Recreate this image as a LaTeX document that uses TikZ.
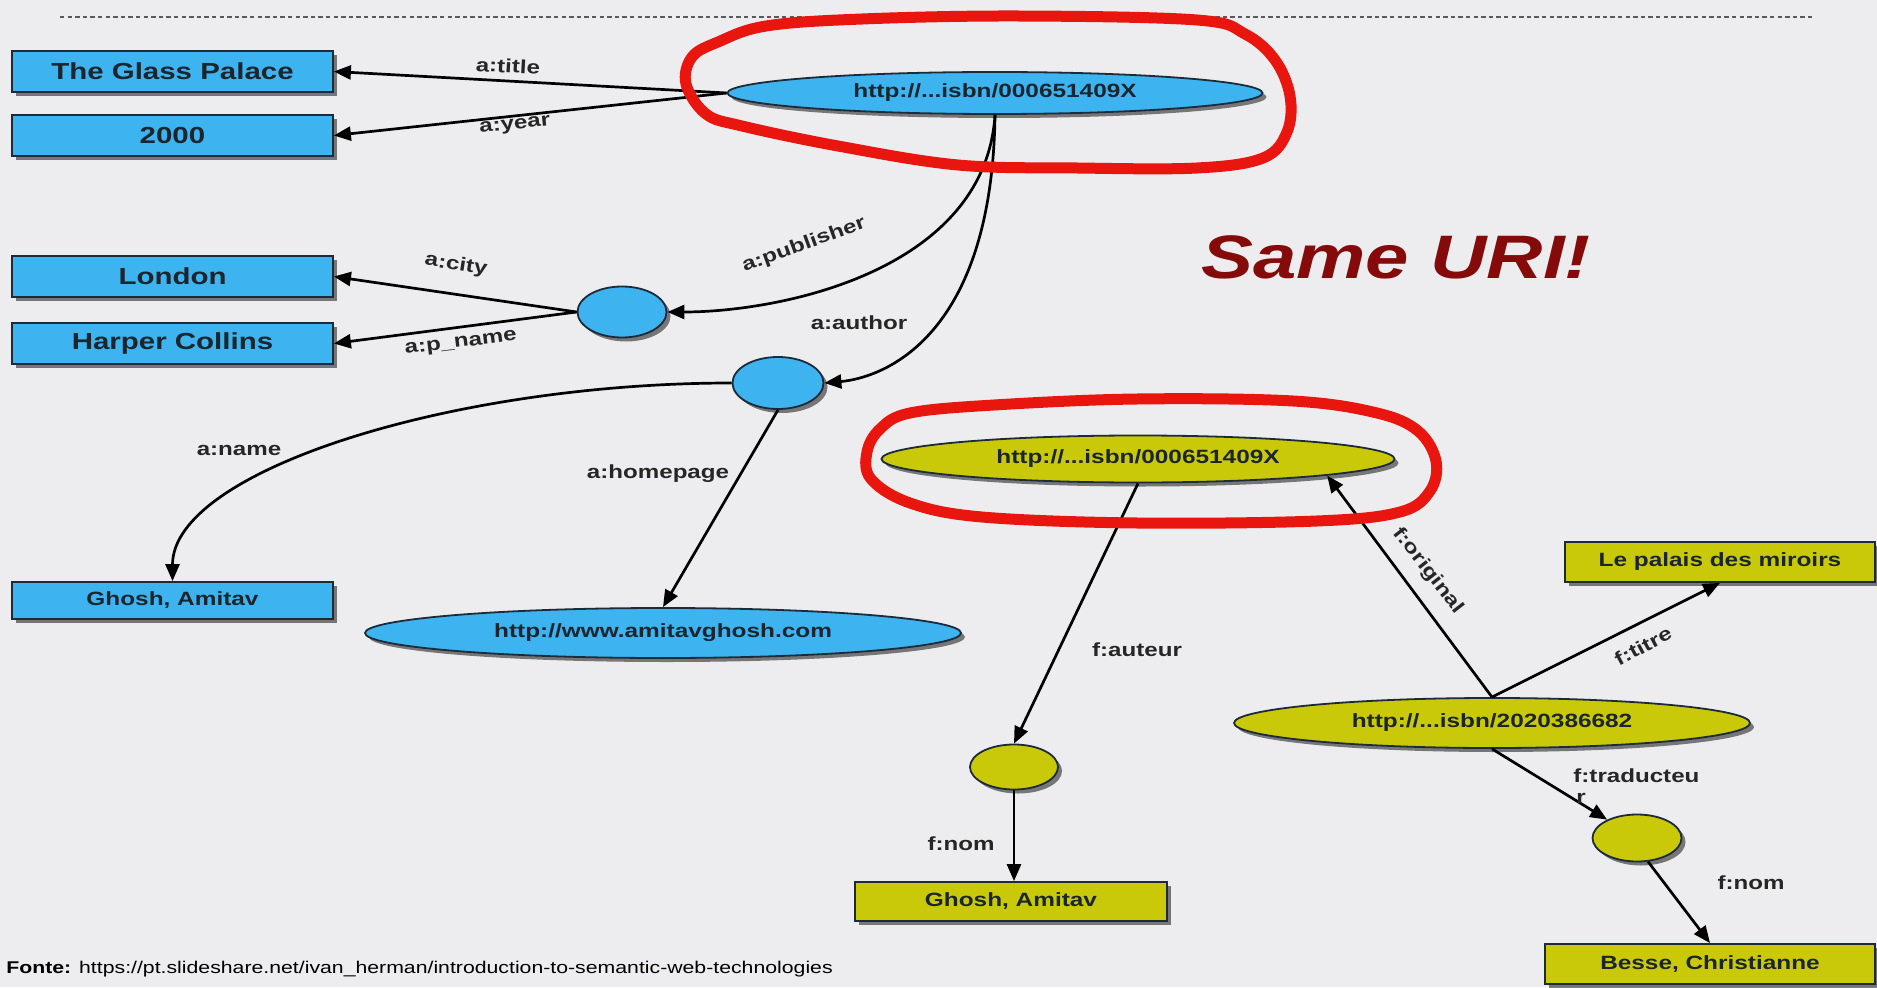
\documentclass[tikz,border=0pt]{standalone}
\usepackage{fontspec}
\setmainfont{Liberation Sans}
\usetikzlibrary{shapes.geometric,shadows,arrows.meta,calc}
\definecolor{bgc}{HTML}{EDEDEF}
\definecolor{blueF}{HTML}{3DB3EF}
\definecolor{yelF}{HTML}{C9C90A}
\definecolor{edgeC}{HTML}{1C2B3A}
\definecolor{txtC}{HTML}{1A252D}
\definecolor{labC}{HTML}{262626}
\definecolor{uriC}{HTML}{850A0A}
\definecolor{loopC}{HTML}{E8160F}
\newcommand{\sx}[1]{\scalebox{1.27}[1]{#1}}
\begin{document}
\begin{tikzpicture}[x=0.5pt,y=0.5pt,
  shad/.style={drop shadow={shadow xshift=2pt,shadow yshift=-2pt,opacity=0.5,fill=black}},
  nbase/.style={draw=edgeC,line width=0.9pt,inner sep=0pt,shad,text=txtC,font=\bfseries\fontsize{9.6}{11}\selectfont},
  bigbox/.style={nbase,rectangle,fill=blueF,minimum width=160.5pt,minimum height=20.5pt,font=\bfseries\fontsize{11.6}{13}\selectfont},
  bbox/.style={nbase,rectangle,fill=blueF},
  ybox/.style={nbase,rectangle,fill=yelF},
  bell/.style={nbase,ellipse,fill=blueF},
  yell/.style={nbase,ellipse,fill=yelF},
  lab/.style={inner sep=0pt,text=labC,font=\bfseries\fontsize{9.5}{10}\selectfont},
  arr/.style={line width=1.35pt,-{Triangle[length=8.5pt,width=7pt]}},
  redloop/.style={draw=loopC,line width=5.5pt,line join=round}
]
\fill[bgc] (0,0) rectangle (1877,987);
\useasboundingbox (0,0) rectangle (1877,987);

\draw[gray!70!black,line width=0.9pt,dash pattern=on 2.2pt off 1.6pt] (60,970) -- (1813,970);

% nodes
\node[bigbox] (glass) at (172.5,915.5) {\sx{The Glass Palace}};
\node[bigbox] (y2000) at (172.5,851.5) {\sx{2000}};
\node[bigbox] (london) at (172.5,710.5) {\sx{London}};
\node[bigbox] (harper) at (172.5,643.5) {\sx{Harper Collins}};
\node[bbox,minimum width=160.5pt,minimum height=18.5pt] (ghoshA) at (172.5,386.5) {\sx{Ghosh, Amitav}};
\node[bell,minimum width=267.5pt,minimum height=21pt] (isbnA) at (995,894) {\sx{http://...isbn/000651409X}};
\node[bell,minimum width=44.5pt,minimum height=25.5pt] (pub) at (622,675) {};
\node[bell,minimum width=45.5pt,minimum height=26pt] (auth) at (778,604) {};
\node[bell,minimum width=298pt,minimum height=25pt] (home) at (663,354) {\sx{http://www.amitavghosh.com}};
\node[yell,minimum width=256.5pt,minimum height=23.5pt] (isbnF) at (1138,528) {\sx{http://...isbn/000651409X}};
\node[yell,minimum width=44pt,minimum height=22.5pt] (fauth) at (1014,220) {};
\node[ybox,minimum width=156pt,minimum height=19.5pt] (ghoshF) at (1011,85.5) {\sx{Ghosh, Amitav}};
\node[yell,minimum width=258pt,minimum height=25pt] (isbn2) at (1492,264) {\sx{http://...isbn/2020386682}};
\node[yell,minimum width=44.5pt,minimum height=23.5pt] (trad) at (1637,149) {};
\node[ybox,minimum width=155pt,minimum height=20pt] (palais) at (1720,425) {\sx{Le palais des miroirs}};
\node[ybox,minimum width=165pt,minimum height=20pt] (besse) at (1710,23) {\sx{Besse, Christianne}};

% edges
\draw[arr] (isbnA.west) -- (glass.east);
\draw[arr] (isbnA.west) -- (y2000.east);
\draw[arr] (isbnA.south) .. controls +(-10,-156) and +(113,0) .. (pub.east);
\draw[arr] (isbnA.south) .. controls +(-3,-226) and +(56,5) .. (auth.east);
\draw[arr] (pub.west) -- (london.east);
\draw[arr] (pub.west) -- (harper.east);
\draw[arr] (auth.west) .. controls +(-280,0) and +(0,110) .. (ghoshA.north);
\draw[arr] (auth.south) -- (home.north);
\draw[arr] (isbnF.south) -- (fauth.north);
\draw[arr] (fauth.south) -- (fauth.south |- ghoshF.north);
\draw[arr] (isbn2.north) -- (isbnF.-5.3);
\draw[arr] (isbn2.north) -- (palais.south);
\draw[arr] (isbn2.south) -- (trad);
\draw[arr] (trad.-65) -- (besse.north);

% edge labels
\node[lab,rotate=-3] (ltitle) at (508,921) {\sx{a:title}};
\node[lab,rotate=6] (lyear) at (515,861) {\sx{a:year}};
\node[lab,rotate=20] (lpub) at (804,742) {\sx{a:publisher}};
\node[lab] (lauth) at (859,664) {\sx{a:author}};
\node[lab,rotate=-9] (lcity) at (456,722) {\sx{a:city}};
\node[lab,rotate=7] (lpname) at (461,643) {\sx{a:p\_name}};
\node[lab] (lname) at (239,537) {\sx{a:name}};
\node[lab] (lhome) at (658,513) {\sx{a:homepage}};
\node[lab] (lfaut) at (1137,337) {\sx{f:auteur}};
\node[lab] (lfnom1) at (961,143) {\sx{f:nom}};
\node[lab,rotate=-52] (lorig) at (1428,416) {\sx{f:original}};
\node[lab,rotate=28] (ltitre) at (1643,341) {\sx{f:titre}};
\node[lab,anchor=west] (ltrad) at (1573,211) {\sx{f:traducteu}};
\node[lab,anchor=west] (ltrad2) at (1576,189) {\sx{r}};
\node[lab] (lfnom2) at (1751,104) {\sx{f:nom}};

% red hand-drawn loops
\draw[redloop] plot[smooth cycle,tension=0.6] coordinates {(718,945) (766,961) (862,968) (1017,971) (1197,967) (1245,953) (1275,927) (1290,891) (1287,855) (1263,829) (1197,819) (1077,819) (958,822) (838,841) (742,861) (706,873) (686,903) (692,930)};
\draw[redloop] plot[smooth cycle,tension=0.6] coordinates {(910,574) (994,582) (1137,588) (1293,586) (1377,574) (1418,556) (1436,526) (1430,496) (1400,475) (1317,466) (1137,464) (982,470) (910,484) (871,508) (867,535) (880,558)};

\node[text=uriC,font=\bfseries\itshape\fontsize{30.7}{34}\selectfont] (same) at (1396,730) {\sx{Same URI!}};

\node[anchor=base west,inner sep=0pt,text=black,font=\fontsize{8.5}{10}\selectfont] (fonte) at (6,14) {\scalebox{1.25}[1]{\textbf{Fonte:} https://pt.slideshare.net/ivan\_herman/introduction-to-semantic-web-technologies}};
\end{tikzpicture}
\end{document}
